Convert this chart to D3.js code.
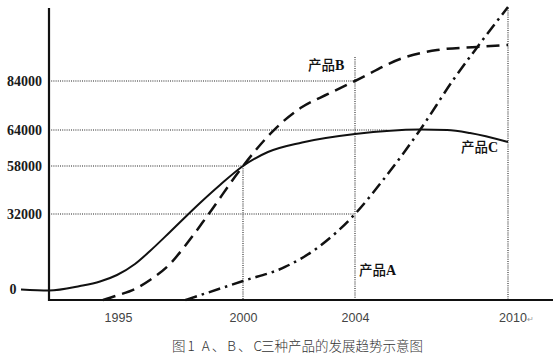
<!DOCTYPE html>
<html>
<head>
<meta charset="utf-8">
<script src="https://cdn.jsdelivr.net/npm/d3@7"></script>
<style>
  html, body { margin: 0; padding: 0; background: #fff; }
  svg { display: block; }
</style>
</head>
<body>
<svg id="chart" width="555" height="359"></svg>
<script>
// ---- data ----
const xTickYears = [1995, 2000, 2004, 2010];
const yTickValues = [0, 32000, 58000, 64000, 84000];
const baselineValue = -4000;

const yearsA  = [1997.7, 2000, 2001.5, 2002.7, 2004, 2005.1, 2006.55, 2007.85, 2008.8, 2010];
const valuesA = [-4000, 3800, 9700, 18100, 32000, 50400, 64000, 84400, 97900, 114200];

const yearsB  = [1994.4, 1994.96, 1995.68, 1996.28, 1997.08, 1997.68, 1998.6, 2000, 2001.07, 2002.11, 2003.04, 2004, 2005.88, 2007.22, 2008.78, 2010];
const valuesB = [-4000, -2200, 420, 4210, 10950, 18530, 31580, 58000, 63830, 73390, 78700, 84000, 93390, 96650, 97880, 98700];

const yearsC  = [1991.12, 1992.24, 1993.48, 1994.28, 1994.96, 1995.68, 1996.28, 1997.08, 1998.28, 1999.08, 2000, 2000.89, 2002.11, 2004, 2006.55, 2007.61, 2008.51, 2010];
const valuesC = [210, -200, 1680, 3580, 6320, 10950, 16420, 24420, 37960, 47710, 58000, 60330, 61920, 63330, 64200, 64000, 63500, 62000];

// reference (dotted) lines
const hRefValues = [84000, 64000, 58000, 32000];
const hRefEndYears = [2004, 2005.3, 2000, 2004];
const vRefYears = [2000, 2004, 2010];
const vRefTopValues = [58000, 93800, null];

const captionHead = "图1 A、B、C";
const captionTail = "三种产品的发展趋势示意图";

// ---- scales ----
const svg = d3.select("#chart");
const x = d3.scaleLinear().domain(xTickYears).range([118, 243, 355, 508]);
const y = d3.scaleLinear().domain([baselineValue, ...yTickValues]).range([300, 290, 214, 166, 130, 81]);

const axisX = 49, topY = 8, baseY = y(baselineValue);
const topValue = y.invert(topY);

// ---- reference lines ----
const grid = svg.append("g")
  .attr("stroke", "#222").attr("stroke-width", 1.1)
  .attr("stroke-dasharray", "1,1.2").attr("fill", "none");

hRefValues.forEach((v, i) => {
  grid.append("line")
    .attr("x1", axisX).attr("x2", x(hRefEndYears[i]))
    .attr("y1", y(v)).attr("y2", y(v));
});
vRefYears.forEach((yr, i) => {
  const tv = vRefTopValues[i] === null ? topValue : vRefTopValues[i];
  grid.append("line")
    .attr("x1", x(yr)).attr("x2", x(yr))
    .attr("y1", y(tv)).attr("y2", baseY);
});

// ---- axes ----
svg.append("line").attr("x1", axisX).attr("x2", axisX).attr("y1", topY).attr("y2", baseY + 1)
  .attr("stroke", "#111").attr("stroke-width", 2.2);
svg.append("line").attr("x1", axisX).attr("x2", 553).attr("y1", baseY).attr("y2", baseY)
  .attr("stroke", "#111").attr("stroke-width", 2);

const yAxis = svg.append("g")
  .attr("transform", `translate(${axisX},0)`)
  .call(d3.axisLeft(y).tickValues(yTickValues.filter(d => d !== 0)).tickSize(0).tickPadding(7).tickFormat(d3.format("d")));
yAxis.select(".domain").remove();
yAxis.selectAll("text")
  .attr("font-family", "'Liberation Serif', serif")
  .attr("font-size", 14).attr("font-weight", "bold").attr("fill", "#1a1a1a");

svg.append("text").attr("x", 13).attr("y", y(0)).attr("dy", "0.32em")
  .attr("text-anchor", "middle")
  .attr("font-family", "'Liberation Serif', serif")
  .attr("font-size", 14).attr("font-weight", "bold").attr("fill", "#1a1a1a")
  .text("0");

const xAxis = svg.append("g")
  .attr("transform", `translate(0,${baseY})`)
  .call(d3.axisBottom(x).tickValues(xTickYears).tickSize(0).tickPadding(13).tickFormat(d3.format("d")));
xAxis.select(".domain").remove();
xAxis.selectAll("text")
  .attr("font-family", "'Liberation Sans', sans-serif")
  .attr("font-size", 12.5).attr("fill", "#444");
xAxis.selectAll(".tick").filter(d => d === 2010).select("text")
  .attr("dx", 8)
  .append("tspan").attr("font-size", 8).attr("fill", "#999").text("↵");

// ---- series ----
const line = d3.line().x(d => x(d[0])).y(d => y(d[1])).curve(d3.curveMonotoneX);
const zip = (a, b) => a.map((d, i) => [d, b[i]]);

svg.append("path").datum(zip(yearsC, valuesC)).attr("d", line)
  .attr("fill", "none").attr("stroke", "#111").attr("stroke-width", 2);
svg.append("path").datum(zip(yearsB, valuesB)).attr("d", line)
  .attr("fill", "none").attr("stroke", "#111").attr("stroke-width", 2.5)
  .attr("stroke-dasharray", "13,7");
svg.append("path").datum(zip(yearsA, valuesA)).attr("d", line)
  .attr("fill", "none").attr("stroke", "#111").attr("stroke-width", 2.5)
  .attr("stroke-dasharray", "12,5,2.5,5");

// ---- series labels ----
function seriesLabel(px, py, letter) {
  const t = svg.append("text").attr("x", px).attr("y", py).attr("fill", "#111");
  t.append("tspan").attr("font-family", "'Noto Sans CJK SC', sans-serif")
    .attr("font-size", 13.5).attr("font-weight", 500).text("产品");
  t.append("tspan").attr("font-family", "'Liberation Serif', serif")
    .attr("font-size", 14).attr("font-weight", "bold").text(letter);
}
seriesLabel(308, 70, "B");
seriesLabel(461, 152, "C");
seriesLabel(359, 275, "A");

// ---- caption ----
const capStyle = sel => sel
  .attr("font-family", "'Noto Sans CJK SC', sans-serif")
  .attr("font-size", 13.5).attr("font-weight", 300).attr("fill", "#333")
  .attr("lengthAdjust", "spacing");
svg.append("text").attr("x", 172).attr("y", 351).call(capStyle)
  .attr("textLength", 90).text(captionHead);
svg.append("text").attr("x", 261).attr("y", 351).call(capStyle)
  .attr("textLength", 162).text(captionTail);
</script>
</body>
</html>
